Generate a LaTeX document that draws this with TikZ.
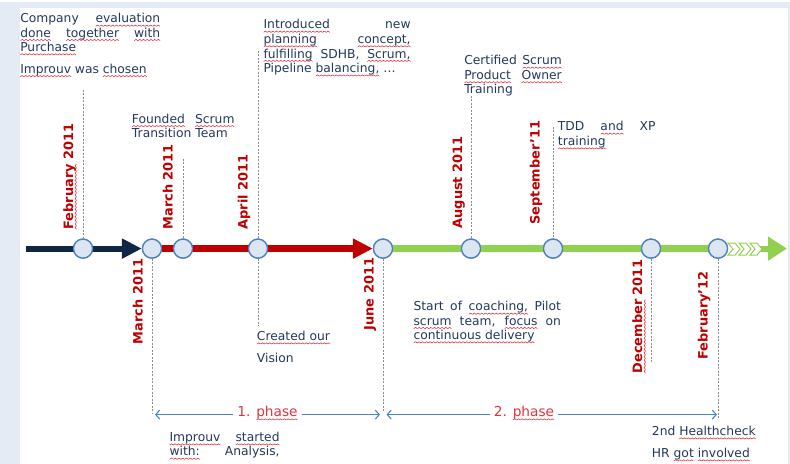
\documentclass[tikz,border=0pt]{standalone}
\usepackage{fontspec}
\setmainfont{DejaVu Sans}
\usetikzlibrary{arrows.meta}
\definecolor{bgblue}{HTML}{E4EBF4}
\definecolor{textnavy}{HTML}{22395F}
\definecolor{datered}{HTML}{C00000}
\definecolor{phasered}{HTML}{E0343C}
\definecolor{squig}{HTML}{E8282E}
\definecolor{navyarrow}{HTML}{0F2744}
\definecolor{redarrow}{HTML}{C00000}
\definecolor{greenarrow}{HTML}{92D050}
\definecolor{circfill}{HTML}{DCE6F2}
\definecolor{circline}{HTML}{4F81BD}
\definecolor{dashgray}{HTML}{8C8C8C}
\definecolor{phaseblue}{HTML}{4A86C6}
\newsavebox\wavebox
\newcommand\makewave{\sbox\wavebox{\begin{pgfpicture}
  \pgfpathrectangle{\pgfpoint{0pt}{0pt}}{\pgfpoint{3.6pt}{1.6pt}}
  \pgfusepath{use as bounding box}
  \color{squig}\pgfsetlinewidth{0.55pt}
  \pgfpathmoveto{\pgfpoint{0pt}{0.2pt}}
  \pgfpathlineto{\pgfpoint{1.8pt}{1.4pt}}
  \pgfpathlineto{\pgfpoint{3.6pt}{0.2pt}}
  \pgfusepath{stroke}
\end{pgfpicture}}}
\newsavebox\sqword
\newcommand\sq[1]{\leavevmode\sbox\sqword{#1}\rlap{\lower3.6pt\hbox to\wd\sqword{\xleaders\copy\wavebox\hfil}}\usebox\sqword}
\newcommand\bodyfont{\fontsize{12.3}{14.3}\selectfont\tolerance=10000\hyphenpenalty=10000\exhyphenpenalty=10000}
\newcommand\datefont{\fontsize{12.9}{14}\selectfont\bfseries}
\newcommand\phasefont{\fontsize{13.7}{15}\selectfont}
\tikzset{
  txt/.style={anchor=base west, inner sep=0pt, text=textnavy, font=\bodyfont},
  para/.style={txt, align=justify},
  datelab/.style={rotate=90, inner sep=0pt, text=datered, font=\datefont},
  milestone/.style={circle, minimum size=19pt, inner sep=0pt, fill=circfill, draw=circline, line width=1.3pt},
  guide/.style={draw=dashgray, line width=0.7pt, dash pattern=on 2pt off 1.5pt},
  phaselab/.style={anchor=base, inner xsep=4pt, inner ysep=1pt, fill=white, text=phasered, font=\phasefont},
  phasearrow/.style={draw=phaseblue, line width=1.1pt, -{Straight Barb[length=4pt,width=9pt]}},
  chevron/.style={draw=greenarrow, fill=white, line width=1pt, line join=miter}
}
\begin{document}
\begin{tikzpicture}[x=1pt, y=-1pt]
\makewave
\useasboundingbox (0,0) rectangle (790,462);
\fill[bgblue] (0,0) rectangle (790,462);
\fill[white] (20,6) rectangle (788,462);

% milestones
\node[milestone] (c1) at (83,247) {};
\node[milestone] (c2) at (152,247) {};
\node[milestone] (c3) at (183,247) {};
\node[milestone] (c4) at (258,247) {};
\node[milestone] (c5) at (383,247) {};
\node[milestone] (c6) at (471,247) {};
\node[milestone] (c7) at (553,247) {};
\node[milestone] (c8) at (651,247) {};
\node[milestone] (c9) at (718,247) {};

\coordinate (start) at (26,247);
\coordinate (stem) at (758,247);
\coordinate (tip) at (787,247);

% timeline arrows
\draw[navyarrow, line width=6pt, -{Triangle[length=20pt,width=19pt]}] (start) -- (c2.west);
\draw[redarrow, line width=6.5pt, -{Triangle[length=20pt,width=19pt]}] (c2.east) -- (c5.west);
\draw[greenarrow, line width=6.5pt] (c5.east) -- (c9.west);
\draw[greenarrow, line width=6pt, -{Triangle[length=19pt,width=23pt]}] (stem) -- (tip);
\foreach \s in {728,739,750}{
  \draw[chevron] (\s,241.5) -- (\s+7,241.5) -- (\s+12,247.5) -- (\s+7,253.5) -- (\s,253.5) -- (\s+5,247.5) -- cycle;
}
% circles on top of the lines
\foreach \c in {c1,c2,c3,c4,c5,c6,c7,c8,c9}{
  \node[milestone] at (\c) {};
}

% guide lines
\coordinate (g1) at (83,88);
\coordinate (g3) at (183,157);
\coordinate (g4a) at (258,49);
\coordinate (g4b) at (258,324);
\coordinate (g2) at (152,412);
\coordinate (g5) at (383,411);
\coordinate (g6) at (471,94);
\coordinate (g7) at (553,125);
\coordinate (g8) at (651,362);
\coordinate (g9) at (718,417);
\draw[guide] (g1) -- (c1.north);
\draw[guide] (g3) -- (c3.north);
\draw[guide] (g4a) -- (c4.north);
\draw[guide] (c4.south) -- (g4b);
\draw[guide] (c2.south) -- (g2);
\draw[guide] (c5.south) -- (g5);
\draw[guide] (g6) -- (c6.north);
\draw[guide] (g7) -- (c7.north);
\draw[guide] (c8.south) -- (g8);
\draw[guide] (c9.south) -- (g9);

% date labels
\node[datelab, anchor=base west] (d1) at (73,228) {\sq{February} 2011};
\node[datelab, anchor=base west] (d3) at (172.5,228) {March 2011};
\node[datelab, anchor=base west] (d4) at (247.5,228) {April 2011};
\node[datelab, anchor=base west] (d6) at (462,227) {August 2011};
\node[datelab, anchor=base west] (d7) at (539.5,223) {September’11};
\node[datelab, anchor=base east] (d2) at (142.5,257) {March 2011};
\node[datelab, anchor=base east] (d5) at (373.5,256) {June 2011};
\node[datelab, anchor=base east] (d8) at (642,257.3) {\sq{December} 2011};
\node[datelab, anchor=base east] (d9) at (707.5,269.3) {February’12};

% texts
\node[para, text width=140pt] (t1) at (20,21.3) {Company \sq{evaluation}\linebreak \sq{done} \sq{together} \sq{with}\linebreak \sq{Purchase}};
\node[txt] (t1b) at (20,71.7) {\sq{Improuv} was \sq{chosen}};
\node[para, text width=102.5pt] (t2) at (131.7,121.7) {\sq{Founded} \sq{Scrum}\linebreak Transition Team};
\node[para, text width=147pt, font={\bodyfont\fontsize{12.3}{14.6}\selectfont}] (t3) at (263.3,27.3) {\sq{Introduced} new\linebreak \sq{planning} \sq{concept,}\linebreak \sq{fulfilling} SDHB, \sq{Scrum,}\linebreak Pipeline \sq{balancing,} …};
\node[para, text width=97.5pt, font={\bodyfont\fontsize{12.3}{14.5}\selectfont}] (t4) at (464,63.3) {Certified \sq{Scrum}\linebreak \sq{Product} \sq{Owner}\linebreak Training};
\node[para, text width=97.5pt, font={\bodyfont\fontsize{12.3}{14.7}\selectfont}] (t5) at (557.7,129.3) {TDD \sq{and} XP\linebreak \sq{training}};
\node[txt] (t6) at (256.7,339) {\sq{Created our}};
\node[txt] (t6b) at (256.7,361) {Vision};
\node[para, text width=147.4pt] (t7) at (413.3,309.3) {Start of \sq{coaching,} Pilot\linebreak \sq{scrum} team, \sq{focus} on\linebreak \sq{continuous delivery}};
\node[txt] (t8) at (651.7,434) {2nd \sq{Healthcheck}};
\node[txt] (t8b) at (651.7,456) {HR \sq{got} \sq{involved}};
\node[para, text width=110pt, font={\bodyfont\parfillskip=0pt}] (t9) at (169.3,440) {\sq{Improuv} \sq{started}\linebreak \sq{with:} Analysis,};

% phases
\coordinate (p1a) at (155,413);
\coordinate (p1b) at (380,413);
\coordinate (p2a) at (386.5,413);
\coordinate (p2b) at (717,413);
\node[phaselab] (ph1) at (267.5,415) {1. \sq{phase}};
\node[phaselab] (ph2) at (524,415) {2. \sq{phase}};
\draw[phasearrow] (ph1.west |- p1a) -- (p1a);
\draw[phasearrow] (ph1.east |- p1b) -- (p1b);
\draw[phasearrow] (ph2.west |- p2a) -- (p2a);
\draw[phasearrow] (ph2.east |- p2b) -- (p2b);
\end{tikzpicture}
\end{document}
